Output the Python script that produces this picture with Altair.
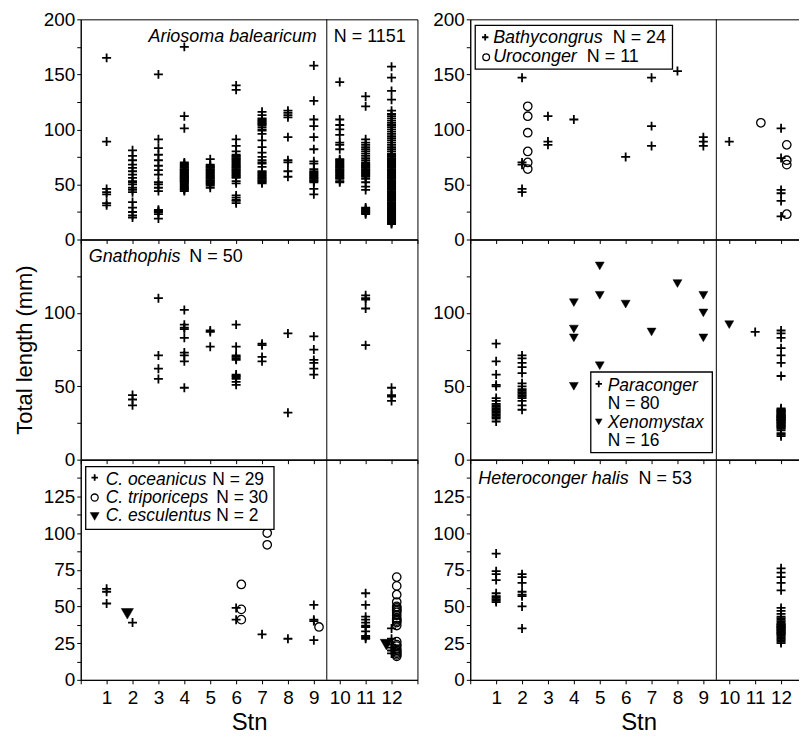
import altair as alt
import pandas as pd

FONT = "Liberation Sans"
W, H = 338, 221
STN_TICKS = list(range(0, 14))
SEPARATOR_STN = [9.5]

# ---------------- data (station -> total lengths, mm) ----------------
ariosoma = {
    1: [165, 89, 46, 43, 41, 33, 31],
    2: [81, 76, 72, 68, 65, 62, 59, 56, 53, 52, 50, 47, 45, 43, 34, 29, 25, 22, 20],
    3: [150, 91, 83, 77, 72, 67, 63, 59, 52, 50, 47, 44, 27, 26, 25, 23, 19],
    4: [175, 112, 101, 70, 69, 68, 67, 66, 65, 64, 63, 62, 61, 60, 59, 58, 57, 56, 55,
        54, 53, 52, 51, 50, 49, 48, 47, 46, 45, 44, 63, 61, 59, 57, 55, 53],
    5: [73, 68, 67, 66, 65, 64, 63, 62, 61, 60, 59, 58, 57, 56, 55, 54, 53, 52, 51, 50, 49, 47],
    6: [140, 136, 91, 85, 80, 77, 76, 75, 74, 73, 72, 71, 70, 69, 68, 67, 66, 65, 64, 63,
        62, 61, 60, 59, 58, 57, 56, 53, 51, 40, 38, 36, 35, 33],
    7: [116, 113, 110, 109, 108, 107, 106, 105, 104, 102, 100, 99, 96, 90, 84, 79, 75, 72,
        70, 69, 66, 62, 61, 60, 59, 58, 57, 56, 55, 54, 53, 52, 51],
    8: [117, 115, 113, 111, 93, 72, 70, 62, 57],
    9: [158, 126, 109, 103, 93, 82, 71, 69, 64, 62, 61, 60, 59, 58, 57, 56, 55, 54, 53, 52, 46, 41],
    10: [143, 109, 104, 100, 95, 88, 86, 82, 73, 72, 71, 70, 69, 68, 67, 66, 65, 64, 63, 62,
         61, 60, 59, 58, 57, 56, 55, 53, 52],
    11: [130, 121, 91, 88, 86, 84, 82, 80, 78, 76, 74, 72, 70, 69, 68, 67, 66, 65, 64, 63,
         62, 61, 60, 59, 58, 57, 55, 52, 48, 45, 29, 28, 27, 26, 25, 24, 23],
    12: [157, 147, 135, 127, 117, 114, 112, 110, 108, 106, 104, 102, 100, 98, 96, 94, 92,
         90, 88, 86, 84, 82, 80, 78, 77, 76, 75, 74, 73, 72, 71, 70, 69, 68, 67, 66, 65,
         64, 63, 62, 61, 60, 59, 58, 57, 56, 55, 54, 53, 52, 51, 50, 49, 48, 47, 46, 45,
         44, 43, 42, 41, 40, 39, 38, 37, 36, 35, 34, 33, 32, 31, 30, 29, 28, 27, 26, 25,
         24, 23, 22, 21, 20, 19, 18, 17, 16, 15, 14],
}

bathycongrus = {2: [147, 70, 68, 46, 43], 3: [112, 89, 86], 4: [109], 6: [75],
                7: [147, 103, 85], 8: [153], 9: [93, 89, 85], 10: [89],
                12: [101, 74, 45, 42, 35, 21]}
uroconger = {2: [121, 112, 97, 80, 70, 64], 11: [106], 12: [86, 72, 68, 23]}

gnathophis = {2: [44, 41, 37], 3: [110, 71, 62, 55], 4: [102, 92, 90, 89, 83, 73, 71, 67, 49],
              5: [88, 87, 77], 6: [92, 77, 71, 70, 69, 68, 58, 57, 56, 55, 53, 51],
              7: [79, 78, 70, 67], 8: [86, 32], 9: [84, 75, 68, 66, 62, 58],
              11: [112, 110, 109, 103, 78], 12: [49, 44, 43, 40]}

paraconger = {
    1: [79, 67, 58, 51, 50, 42, 40, 38, 37, 36, 35, 34, 33, 32, 31, 30, 29, 28, 26],
    2: [71, 69, 66, 63, 59, 52, 50, 48, 47, 46, 45, 44, 43, 42, 40, 37, 34],
    11: [87],
    12: [88, 86, 83, 76, 71, 66, 57, 35, 34, 33, 32, 31, 30, 29, 28, 27, 26, 25, 24, 23,
         22, 21, 20, 18, 17, 16, 34, 32, 30, 29, 28, 27, 26, 25, 24, 23, 22, 31, 33, 28,
         30, 27, 29],
}
xenomystax = {4: [107, 89, 83, 50], 5: [132, 112, 64], 6: [106], 7: [87], 8: [120],
              9: [112, 100, 83], 10: [92]}

oceanicus = {1: [62, 60, 52], 2: [39], 6: [49, 41], 7: [31], 8: [28], 9: [51, 41, 40, 27],
             11: [59, 51, 43, 41, 39, 37, 36, 33, 30, 29, 28], 12: [35, 22, 20, 24, 28, 18]}
triporiceps = {6: [65, 48, 41], 7: [100, 92], 9: [36],
               12: [70, 64, 58, 53, 50, 49, 48, 47, 46, 44, 42, 41, 40, 39, 37, 26, 24, 23,
                    21, 20, 19, 18, 17, 16]}
esculentus = {2: [45], 12: [24]}

heteroconger = {1: [86, 74, 72, 68, 59, 57, 56, 55, 54, 53],
                2: [72, 70, 66, 60, 58, 57, 50, 35],
                12: [76, 73, 70, 66, 61, 49, 47, 45, 43, 42, 41, 40, 39, 38, 37, 36, 35, 34,
                     33, 32, 31, 30, 29, 28, 27, 26, 25, 38, 36, 34, 32, 37, 35, 33, 31]}

PLUS = "M-1,0L1,0M0,-1L0,1"


def long_df(d, shift=0.0):
    return pd.DataFrame([{"x": s + shift, "y": v} for s, vals in d.items() for v in vals])


ONE = pd.DataFrame({"a": [0]})


def plus_mark(size=81):
    return dict(shape=PLUS, filled=False, stroke="black", strokeWidth=1.8, size=size, opacity=1)


def circle_mark(size=72):
    return dict(shape="circle", filled=False, stroke="black", strokeWidth=1.3, size=size, opacity=1)


def tri_mark(size=80):
    return dict(shape="triangle-down", filled=True, fill="black", stroke="black",
                strokeWidth=0.5, size=size, opacity=1)


def text_layer(txt, px, py, italic=False, fs=18):
    return alt.Chart(ONE).mark_text(
        text=txt, align="left", baseline="alphabetic", font=FONT, fontSize=fs,
        fontStyle="italic" if italic else "normal", color="black"
    ).encode(x=alt.value(px), y=alt.value(py))


def symbol_layer(mark, px, py):
    return alt.Chart(ONE).mark_point(**mark).encode(x=alt.value(px), y=alt.value(py))


def box_layer(x1, y1, x2, y2):
    return alt.Chart(ONE).mark_rect(fill="white", stroke="black", strokeWidth=1.3).encode(
        x=alt.value(x1), x2=alt.value(x2), y=alt.value(y1), y2=alt.value(y2))


def panel(points, ydomain, yvalues, major, bottom, ytitle, extras):
    xaxis = dict(values=STN_TICKS, tickSize=4, labelPadding=5, title=None, labels=False)
    if bottom:
        xaxis.update(labels=True, labelExpr="datum.value >= 1 && datum.value <= 12 ? datum.label : ''",
                     title="Stn", titleFontSize=24, titlePadding=3)
    yaxis = dict(values=yvalues, tickSize=4, labelPadding=2, title=None,
                 labelExpr=f"datum.value % {major} === 0 ? datum.label : ''")
    if ytitle:
        yaxis.update(title=ytitle, titleFontSize=22, titlePadding=7)
    xenc = alt.X("x:Q", scale=alt.Scale(domain=[0, 13], nice=False, zero=False), axis=alt.Axis(**xaxis))
    yenc = alt.Y("y:Q", scale=alt.Scale(domain=ydomain, nice=False, zero=False), axis=alt.Axis(**yaxis))
    layers = [alt.Chart(pd.DataFrame({"x": SEPARATOR_STN})).mark_rule(color="black", strokeWidth=1)
              .encode(x=xenc)]
    for df, mark in points:
        layers.append(alt.Chart(df).mark_point(**mark).encode(x=xenc, y=yenc))
    layers.extend(extras)
    return alt.layer(*layers).properties(width=W, height=H)


TOP_VALUES = [0, 25, 50, 75, 100, 125, 150, 175, 200]
MID_VALUES = [0, 25, 50, 75, 100, 125]
BOT_VALUES = [0, 12.5, 25, 37.5, 50, 62.5, 75, 87.5, 100, 112.5, 125, 137.5]

pA = panel([(long_df(ariosoma), plus_mark())], [0, 200], TOP_VALUES, 50, False, None,
           [text_layer("Ariosoma balearicum", 68, 23, True), text_layer("N = 1151", 254, 23)])

pB = panel([(long_df(bathycongrus), plus_mark()), (long_df(uroconger, 0.22), circle_mark())],
           [0, 200], TOP_VALUES, 50, False, None,
           [box_layer(5, 6, 203, 50),
            symbol_layer(plus_mark(42), 15, 18), symbol_layer(circle_mark(45), 16, 38),
            text_layer("Bathycongrus", 23, 24, True), text_layer("N = 24", 143, 24),
            text_layer("Uroconger", 23, 43, True), text_layer("N = 11", 117, 43)])

pC = panel([(long_df(gnathophis), plus_mark())], [0, 150], MID_VALUES, 50, False,
           "Total length (mm)",
           [text_layer("Gnathophis", 8, 23, True), text_layer("N = 50", 109, 23)])

pD = panel([(long_df(paraconger), plus_mark()), (long_df(xenomystax), tri_mark())],
           [0, 150], MID_VALUES, 50, False, None,
           [box_layer(121, 133, 243, 214),
            symbol_layer(plus_mark(42), 129, 145), symbol_layer(tri_mark(45), 129, 183),
            text_layer("Paraconger", 138, 152, True, 17.5), text_layer("N = 80", 138, 170.5, False, 17.5),
            text_layer("Xenomystax", 138, 189, True, 17.5), text_layer("N = 16", 138, 207.5, False, 17.5)])

pE = panel([(long_df(oceanicus), plus_mark()), (long_df(triporiceps, 0.2), circle_mark()),
            (long_df(esculentus, -0.2), tri_mark(150))],
           [0, 150], BOT_VALUES, 25, True, None,
           [box_layer(5, 7, 194, 70),
            symbol_layer(plus_mark(42), 14, 18), symbol_layer(circle_mark(50), 14, 38),
            symbol_layer(tri_mark(80), 14, 57),
            text_layer("C. oceanicus", 25, 25, True, 17.5), text_layer("N = 29", 132, 25, False, 17.5),
            text_layer("C. triporiceps", 25, 43.5, True, 17.5), text_layer("N = 30", 136, 43.5, False, 17.5),
            text_layer("C. esculentus", 25, 62, True, 17.5), text_layer("N = 2", 136, 62, False, 17.5)])

pF = panel([(long_df(heteroconger), plus_mark())], [0, 150], BOT_VALUES, 25, True, None,
           [text_layer("Heteroconger halis", 8, 24, True), text_layer("N = 53", 169, 24)])

chart = alt.concat(pA, pB, pC, pD, pE, pF, columns=2,
                   spacing={"row": 0, "column": 53}, bounds="flush").properties(
    padding={"left": 4, "top": 0, "right": -9, "bottom": 0}
).configure(font=FONT).configure_axis(
    domainColor="black", domainWidth=1, tickColor="black", tickWidth=1,
    labelColor="black", labelFont=FONT, labelFontSize=19, titleFont=FONT,
    titleFontWeight="normal", titleColor="black", grid=False
).configure_view(stroke="black", strokeWidth=1)

chart.save("out.html", embed_options={"renderer": "svg", "actions": False})
